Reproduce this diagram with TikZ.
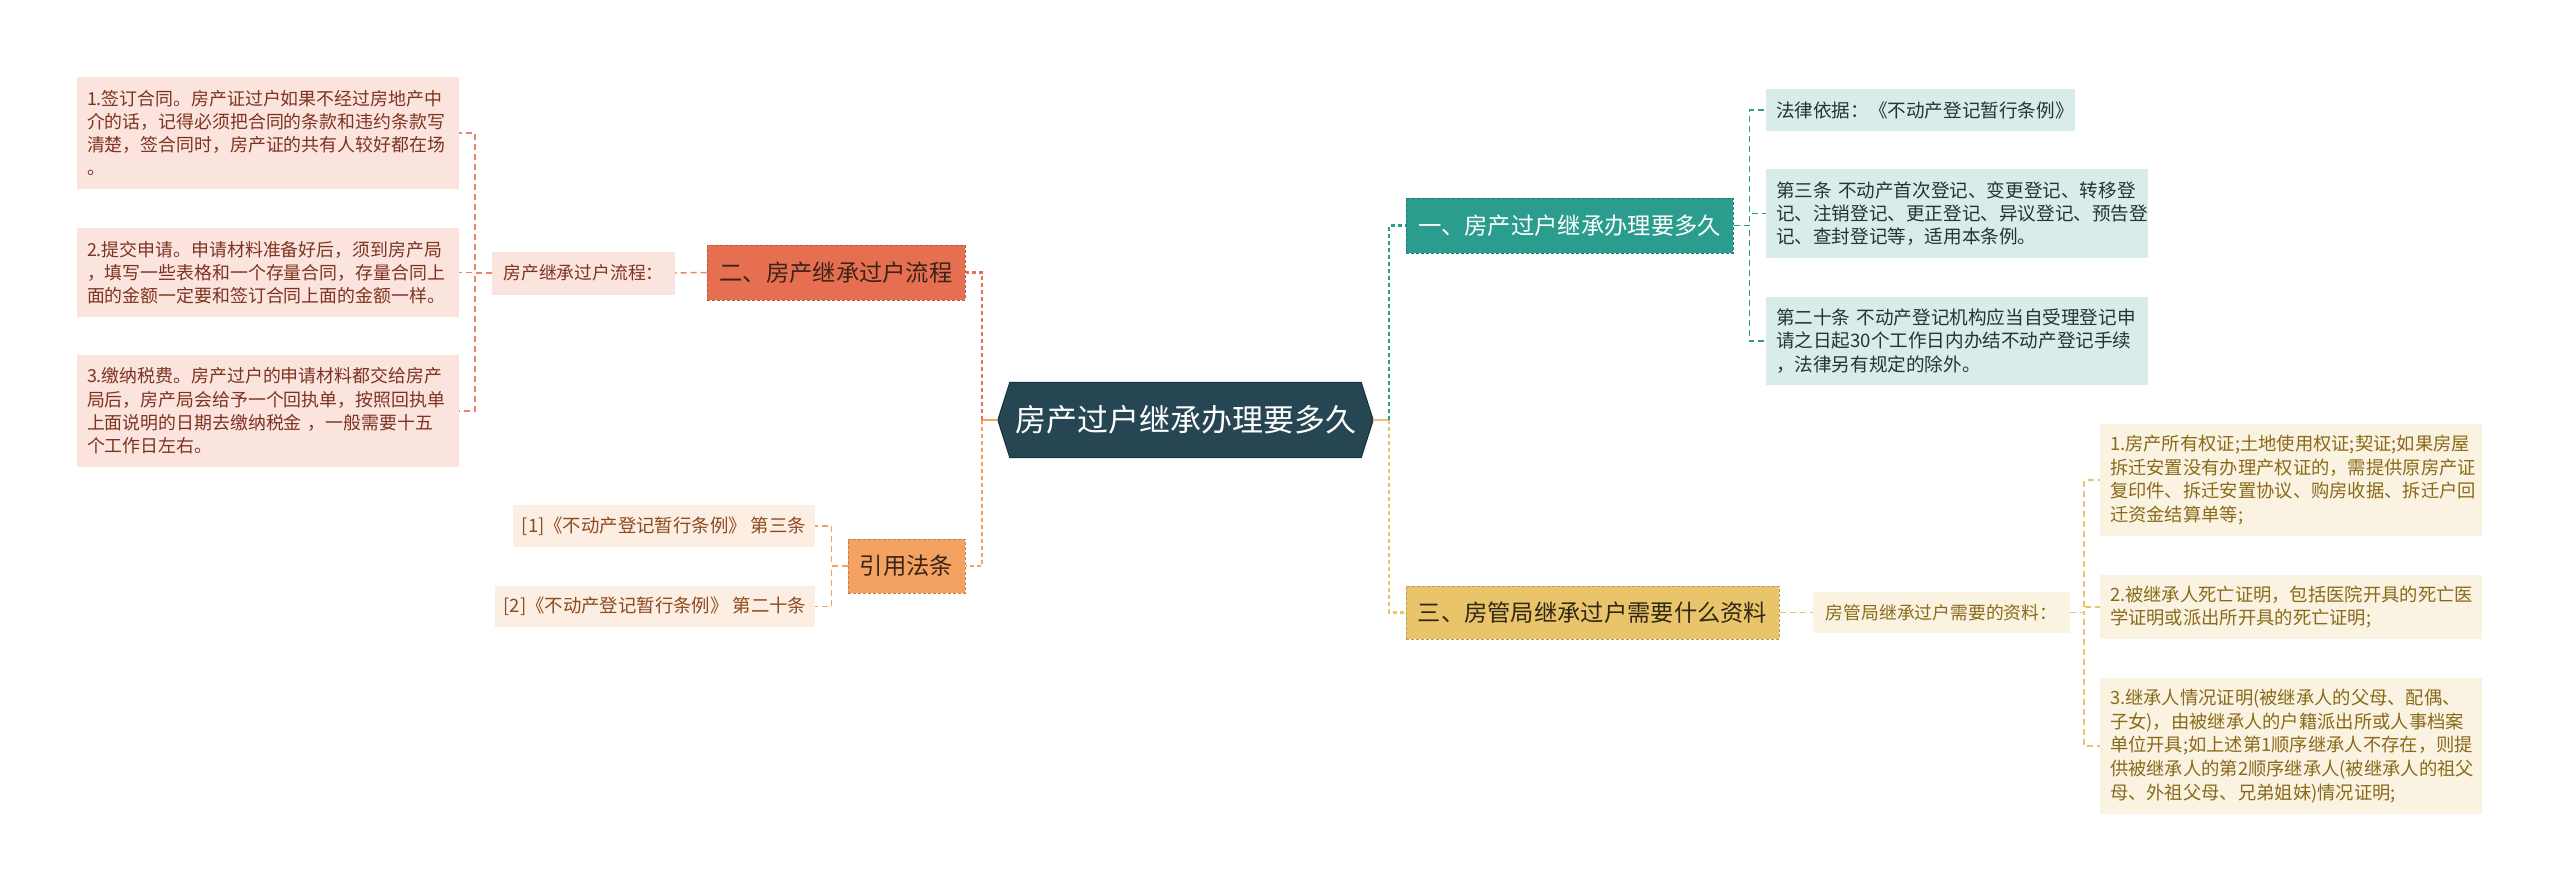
\documentclass[tikz,border=0pt]{standalone}
\usepackage{fontspec}
\setmainfont{Noto Sans CJK SC}
\usetikzlibrary{calc}
\pgfdeclarelayer{bg}
\pgfsetlayers{bg,main}
\definecolor{cRoot}{HTML}{264653}
\definecolor{cTeal}{HTML}{2A9D8F}
\definecolor{cGold}{HTML}{E9C46A}
\definecolor{cOrange}{HTML}{F4A261}
\definecolor{cRed}{HTML}{E76F51}
\definecolor{lPink}{HTML}{FBE4DD}
\definecolor{lPeach}{HTML}{FDEEE3}
\definecolor{lTeal}{HTML}{D9ECEA}
\definecolor{lCream}{HTML}{FBF3E1}
\definecolor{tPink}{HTML}{7E3320}
\definecolor{tPeach}{HTML}{8C4A1E}
\definecolor{tTeal}{HTML}{243434}
\definecolor{tCream}{HTML}{8A6A1A}
\definecolor{tDarkR}{HTML}{3A2418}
\definecolor{tDarkG}{HTML}{2E2814}
\begin{document}
\begin{tikzpicture}[x=1pt,y=-1pt,
  branchbox/.style={rectangle, draw=#1!80!black, fill=#1, dash pattern=on 3pt off 2pt,
    line width=1pt, minimum height=55pt, inner sep=0pt,
    font=\fontsize{23.3}{28}\selectfont},
  leaf/.style={rectangle, inner xsep=10pt, inner ysep=0pt, align=left,
    font=\fontsize{17.9}{23.3}\selectfont},
  leafR/.style={leaf, font=\fontsize{18.6}{23.3}\selectfont},
  leafB/.style={leaf, font=\fontsize{18.3}{23.6}\selectfont},
  subbox/.style={rectangle, inner sep=0pt, font=\fontsize{17.8}{20}\selectfont},
  conn/.style={line width=1.5pt, dash pattern=on 6pt off 4pt},
  trunk/.style={line width=2.5pt, dash pattern=on 4pt off 3pt}
]
\begin{pgfonlayer}{bg}
\fill[white] (0,0) rectangle (2560,891);
\end{pgfonlayer}
\useasboundingbox (0,0) rectangle (2560,891);

% root
\node[rectangle, inner sep=0pt, minimum width=375pt, minimum height=75pt, text=white,
  font=\fontsize{31}{36}\selectfont] (root) at (1185.5,420) {房产过户继承办理要多久};
\begin{pgfonlayer}{bg}
\filldraw[fill=cRoot, draw=cRoot!70!black, line width=1pt] (root.west) -- ([xshift=12pt]root.north west) -- ([xshift=-12pt]root.north east) -- (root.east) -- ([xshift=-12pt]root.south east) -- ([xshift=12pt]root.south west) -- cycle;
\end{pgfonlayer}

% left side
\node[branchbox=cRed, text=tDarkR, minimum width=258pt] (B2) at (836,272.5) {二、房产继承过户流程};
\node[branchbox=cOrange, text=tDarkR, minimum width=117pt, minimum height=54pt] (B4) at (906.5,566) {引用法条};
\node[subbox, fill=lPink, text=tPink, minimum width=183pt, minimum height=43pt] (S2) at (583.5,273) {房产继承过户流程：};

\node[leaf, fill=lPink, text=tPink, text width=362pt, minimum height=112pt] (L1) at (268,133)
 {1.签订合同。房产证过户如果不经过房地产中\\介的话，记得必须把合同的条款和违约条款写\\清楚，签合同时，房产证的共有人较好都在场\\。};
\node[leaf, fill=lPink, text=tPink, text width=362pt, minimum height=89pt] (L2) at (268,272.5)
 {2.提交申请。申请材料准备好后，须到房产局\\，填写一些表格和一个存量合同，存量合同上\\面的金额一定要和签订合同上面的金额一样。};
\node[leaf, fill=lPink, text=tPink, text width=362pt, minimum height=112pt] (L3) at (268,411)
 {3.缴纳税费。房产过户的申请材料都交给房产\\局后，房产局会给予一个回执单，按照回执单\\上面说明的日期去缴纳税金 ，一般需要十五\\个工作日左右。};

\node[subbox, fill=lPeach, text=tPeach, minimum width=302pt, minimum height=42pt, font=\fontsize{18.4}{22}\selectfont] (C1) at (664,526) {[1]《不动产登记暂行条例》 第三条};
\node[subbox, fill=lPeach, text=tPeach, minimum width=320pt, minimum height=41pt, font=\fontsize{18.4}{22}\selectfont] (C2) at (655,606.5) {[2]《不动产登记暂行条例》 第二十条};

% right side
\node[branchbox=cTeal, text=white, minimum width=327pt] (B1) at (1569.5,225.5) {一、房产过户继承办理要多久};
\node[branchbox=cGold, text=tDarkG, minimum width=373pt, minimum height=53pt] (B3) at (1592.5,612.5) {三、房管局继承过户需要什么资料};

\node[leafR, fill=lTeal, text=tTeal, text width=289pt, minimum height=42pt] (R1) at (1920.5,110)
 {法律依据：《不动产登记暂行条例》};
\node[leafR, fill=lTeal, text=tTeal, text width=362pt, minimum height=89pt] (R2) at (1957,213.5)
 {第三条 不动产首次登记、变更登记、转移登\\记、注销登记、更正登记、异议登记、预告登\\记、查封登记等，适用本条例。};
\node[leafR, fill=lTeal, text=tTeal, text width=362pt, minimum height=88pt] (R3) at (1957,341)
 {第二十条 不动产登记机构应当自受理登记申\\请之日起30个工作日内办结不动产登记手续\\，法律另有规定的除外。};

\node[subbox, fill=lCream, text=tCream, minimum width=257pt, minimum height=41pt] (S3) at (1941.5,612.5) {房管局继承过户需要的资料：};

\node[leafB, fill=lCream, text=tCream, text width=362pt, minimum height=112pt] (Q1) at (2291,480)
 {1.房产所有权证;土地使用权证;契证;如果房屋\\拆迁安置没有办理产权证的，需提供原房产证\\复印件、拆迁安置协议、购房收据、拆迁户回\\迁资金结算单等;};
\node[leafB, fill=lCream, text=tCream, text width=362pt, minimum height=64pt] (Q2) at (2291,607)
 {2.被继承人死亡证明，包括医院开具的死亡医\\学证明或派出所开具的死亡证明;};
\node[leafB, fill=lCream, text=tCream, text width=362pt, minimum height=136pt] (Q3) at (2291,746)
 {3.继承人情况证明(被继承人的父母、配偶、\\子女)，由被继承人的户籍派出所或人事档案\\单位开具;如上述第1顺序继承人不存在，则提\\供被继承人的第2顺序继承人(被继承人的祖父\\母、外祖父母、兄弟姐妹)情况证明;};

% trunk connectors
\coordinate (LJ) at (982,420);
\coordinate (RJ) at (1389,420);
\draw[cOrange, line width=2.5pt] (root.west) -- (LJ);
\draw[cRed, trunk] (LJ) |- (B2.east);
\draw[cOrange, trunk] (LJ) |- (B4.east);
\draw[cGold, line width=2.5pt] (root.east) -- (RJ);
\draw[cTeal, trunk] (RJ) |- (B1.west);
\draw[cGold, trunk] (RJ) |- (B3.west);

% sub connectors
\draw[cRed!85, conn] (B2.west) -- (S2.east);
\foreach \n in {L1,L2,L3} \draw[cRed!85, conn] (S2.west) -- ++(-17,0) |- (\n.east);
\foreach \n in {C1,C2} \draw[cOrange, conn] (B4.west) -- ++(-16,0) |- (\n.east);
\foreach \n in {R1,R2,R3} \draw[cTeal, conn] (B1.east) -- ++(16,0) |- (\n.west);
\draw[cGold, conn] (B3.east) -- (S3.west);
\foreach \n in {Q1,Q2,Q3} \draw[cGold, conn] (S3.east) -- ++(14,0) |- (\n.west);
\end{tikzpicture}
\end{document}
